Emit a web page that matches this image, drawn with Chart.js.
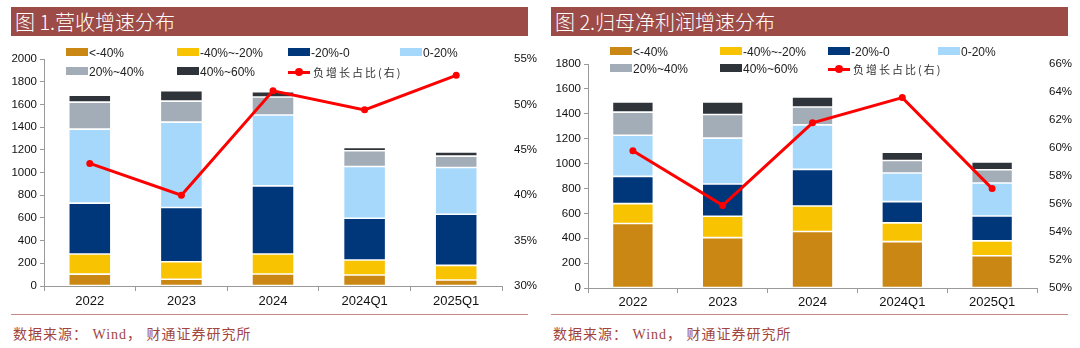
<!DOCTYPE html>
<html>
<head>
<meta charset="utf-8">
<script src="https://cdn.jsdelivr.net/npm/chart.js@4.4.1/dist/chart.umd.min.js"></script>
<style>
  html, body { margin: 0; padding: 0; background: #fff; }
  body { width: 1080px; height: 348px; position: relative; overflow: hidden;
         font-family: "Liberation Sans", Arial, sans-serif; }
  .band { position: absolute; top: 7px; height: 29px; background: #9c4b47;
          color: #fff; font-family: "Noto Sans CJK SC", sans-serif; font-size: 20px;
          line-height: 29px; padding-left: 4px; box-sizing: border-box; font-weight: 300; }
  .wrap { position: absolute; top: 40px; width: 540px; height: 270px; }
  .rule { position: absolute; top: 314px; height: 0; border-top: 1.5px solid #c48a86; }
  .src { position: absolute; top: 323px; font-size: 14px; color: #a0463f;
         font-family: "Liberation Serif", "Noto Sans CJK SC", serif; letter-spacing: 1px; }
  .lg { position: absolute; font-size: 12px; color: #222; height: 14px; line-height: 14px;
        white-space: nowrap; }
  .lg .sw { display: inline-block; width: 22px; height: 8px; vertical-align: 1px; margin-right: 1px; }
  .lg .ln { display: inline-block; width: 22px; height: 3px; background: #ff0000;
            vertical-align: 3px; position: relative; margin-right: 3px; }
  .lg .ln::after { content: ""; position: absolute; left: 7px; top: -3px; width: 8px; height: 8px;
                   border-radius: 50%; background: #ff0000; }
  .lg.cn { font-family: "Noto Sans CJK SC", sans-serif; font-size: 11px; letter-spacing: 2px; color: #333; }
</style>
</head>
<body>

<div class="band" style="left:11px;width:517px;">图 1.营收增速分布</div>
<div class="band" style="left:551px;width:517px;">图 2.归母净利润增速分布</div>

<div class="wrap" style="left:0px;"><canvas id="c1"></canvas></div>
<div class="wrap" style="left:540px;"><canvas id="c2"></canvas></div>

<div id="lg1"></div>
<div id="lg2"></div>

<div class="rule" style="left:11px;width:517px;"></div>
<div class="rule" style="left:551px;width:517px;"></div>
<div class="src" style="left:13px;">数据来源：&nbsp;Wind，&nbsp;财通证券研究所</div>
<div class="src" style="left:553px;">数据来源：&nbsp;Wind，&nbsp;财通证券研究所</div>

<script>
// Periods on the x axis
const categories = ['2022', '2023', '2024', '2024Q1', '2025Q1'];

// Growth-rate buckets (stack order, bottom to top)
const bucketNames = ['<-40%', '-40%~-20%', '-20%-0', '0-20%', '20%~40%', '40%~60%'];
const bucketColors = ['#cb8714', '#f8c300', '#00367a', '#a6d8fb', '#a3adb8', '#2f343b'];
const shareName = '负增长占比(右)';

// Revenue growth: number of companies per bucket
const revLt40   = [105, 59, 106, 97, 53];
const revM40M20 = [177, 155, 176, 132, 129];
const revM20Z   = [448, 477, 600, 368, 450];
const revZ20    = [652, 753, 624, 456, 412];
const rev20to40 = [238, 185, 159, 138, 100];
const rev40to60 = [62, 91, 46, 29, 38];
const revNegShare = [43.5, 40.0, 51.5, 49.4, 53.2];   // %

// Net profit attributable to parent: number of companies per bucket
const npLt40   = [518, 405, 454, 373, 259];
const npM40M20 = [160, 172, 205, 150, 120];
const npM20Z   = [219, 259, 294, 171, 200];
const npZ20    = [331, 368, 358, 230, 265];
const np20to40 = [185, 190, 144, 101, 106];
const np40to60 = [82, 101, 80, 67, 62];
const npNegShare = [59.8, 55.9, 61.8, 63.6, 57.1];    // %

function buildLegend(el, cols, rowY) {
  const items = bucketNames.map((n, i) => ({ name: n, color: bucketColors[i] }));
  items.push({ name: shareName, line: true });
  let html = '';
  items.forEach((it, i) => {
    const r = i < 4 ? 0 : 1, c = i < 4 ? i : i - 4;
    const style = `left:${cols[c]}px;top:${rowY[r] - 7}px;`;
    if (it.line) {
      html += `<div class="lg cn" style="${style}"><span class="ln"></span>${it.name}</div>`;
    } else {
      html += `<div class="lg" style="${style}"><span class="sw" style="background:${it.color}"></span>${it.name}</div>`;
    }
  });
  el.innerHTML = html;
}

function makeChart(id, series, share, cfg) {
  const datasets = series.map((d, i) => ({
    type: 'bar',
    label: bucketNames[i],
    data: d,
    backgroundColor: bucketColors[i],
    borderColor: 'rgba(255,255,255,0.65)',
    borderWidth: 0.8,
    borderSkipped: false,
    yAxisID: 'y',
    order: 1,
    barPercentage: 1,
    categoryPercentage: cfg.barFrac
  }));
  datasets.push({
    type: 'line',
    label: shareName,
    data: share,
    yAxisID: 'y1',
    borderColor: '#ff0000',
    backgroundColor: '#ff0000',
    borderWidth: 3,
    pointRadius: 3.5,
    pointBackgroundColor: '#ff0000',
    pointBorderWidth: 0,
    tension: 0,
    order: 0
  });

  const tickFont = { family: '"Liberation Sans", Arial, sans-serif', size: 11.5 };
  return new Chart(document.getElementById(id), {
    data: { labels: categories, datasets },
    options: {
      responsive: true,
      maintainAspectRatio: false,
      animation: false,
      layout: { padding: { top: cfg.padTop, left: 0, right: 0, bottom: 0 } },
      plugins: { legend: { display: false }, tooltip: { enabled: false } },
      scales: {
        x: {
          stacked: true,
          grid: { display: true, drawOnChartArea: false, drawTicks: true, tickLength: 5, color: '#9a9a9a', offset: true },
          border: { display: true, color: '#9a9a9a' },
          ticks: { color: '#111', font: { family: '"Liberation Sans", Arial, sans-serif', size: 13 }, padding: cfg.xPad, maxRotation: 0 },
          afterFit: s => { s.height = cfg.xHeight; }
        },
        y: {
          stacked: true,
          position: 'left',
          min: 0, max: cfg.yMax,
          ticks: { stepSize: 200, color: '#111', font: tickFont, padding: 3,
                   callback: v => String(v) },
          grid: { display: true, drawOnChartArea: false, drawTicks: true, tickLength: 4, color: '#9a9a9a' },
          border: { display: true, color: '#9a9a9a' },
          afterFit: s => { s.width = cfg.leftW; }
        },
        y1: {
          position: 'right',
          min: cfg.rMin, max: cfg.rMax,
          ticks: { stepSize: cfg.rStep, color: '#111', font: tickFont, padding: 4,
                   callback: v => v + '%' },
          grid: { display: false },
          border: { display: false },
          afterFit: s => { s.width = cfg.rightW; }
        }
      }
    }
  });
}

makeChart('c1',
  [revLt40, revM40M20, revM20Z, revZ20, rev20to40, rev40to60], revNegShare,
  { barFrac: 0.46, padTop: 19, xHeight: 24, xPad: 3, leftW: 44, rightW: 38,
    yMax: 2000, rMin: 30, rMax: 55, rStep: 5 });

makeChart('c2',
  [npLt40, npM40M20, npM20Z, npZ20, np20to40, np40to60], npNegShare,
  { barFrac: 0.456, padTop: 24, xHeight: 22, xPad: 2, leftW: 48, rightW: 43,
    yMax: 1800, rMin: 50, rMax: 66, rStep: 2 });

buildLegend(document.getElementById('lg1'), [66, 177, 288, 400], [53, 72]);
buildLegend(document.getElementById('lg2'), [610, 720, 828, 938], [52, 69]);
</script>
</body>
</html>
